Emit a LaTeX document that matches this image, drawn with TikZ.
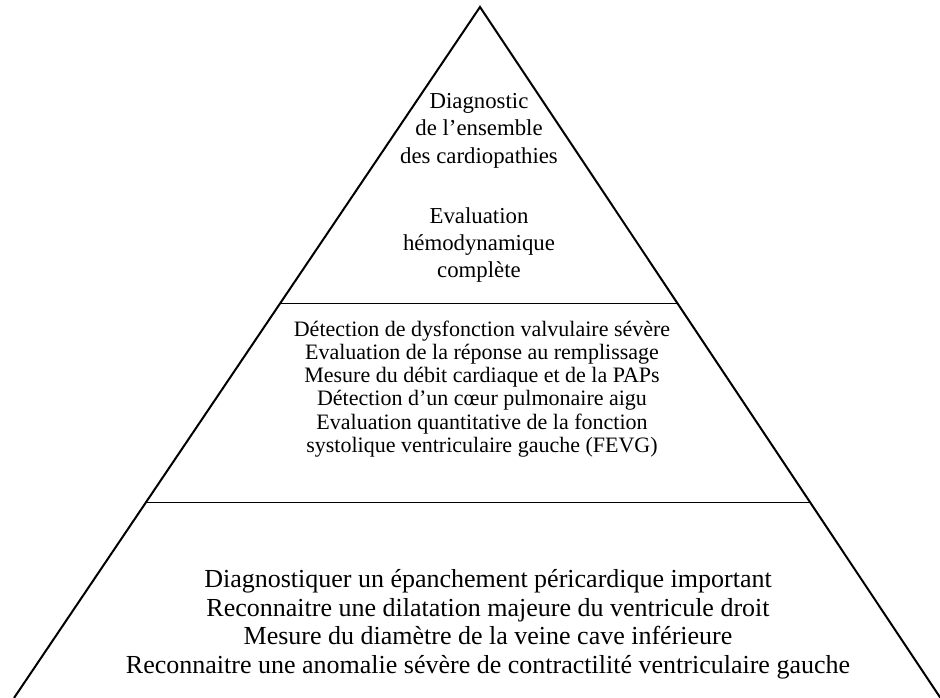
\documentclass[tikz,border=0pt]{standalone}
\usepackage{fontspec}
\setmainfont{Liberation Serif}
\usetikzlibrary{calc}
\tikzset{
  edge/.style={line width=2pt, line join=miter},
  divider/.style={line width=1pt},
  blocktext/.style={align=center, inner sep=0pt},
}
\begin{document}
\begin{tikzpicture}[x=1pt,y=1pt]
\useasboundingbox (0,0) rectangle (940,698);
\coordinate (A) at (480,691);
\coordinate (L) at (14,0);
\coordinate (R) at (940.5,0);
\draw[edge] (L) -- (A) -- (R);
\coordinate (d1l) at ($(A)!0.4284!(L)$);
\coordinate (d1r) at ($(A)!0.4284!(R)$);
\coordinate (d2l) at ($(A)!0.7178!(L)$);
\coordinate (d2r) at ($(A)!0.7178!(R)$);
\draw[divider] (d1l) -- (d1r);
\draw[divider] (d2l) -- (d2r);
\node[blocktext, font=\fontsize{22.8}{27.5}\selectfont] (t1) at (479,567.5) {Diagnostic\\de l’ensemble\\des cardiopathies};
\node[blocktext, font=\fontsize{22.8}{27}\selectfont] (t2) at (479,452.5) {Evaluation\\hémodynamique\\complète};
\node[blocktext, font=\fontsize{22}{23.2}\selectfont] (m) at (482,309) {Détection de dysfonction valvulaire sévère\\Evaluation de la réponse au remplissage\\Mesure du débit cardiaque et de la PAPs\\Détection d’un cœur pulmonaire aigu\\Evaluation quantitative de la fonction\\systolique ventriculaire gauche (FEVG)};
\node[blocktext, font=\fontsize{26}{28.5}\selectfont] (b) at (488,73.5) {Diagnostiquer un épanchement péricardique important\\Reconnaitre une dilatation majeure du ventricule droit\\Mesure du diamètre de la veine cave inférieure\\Reconnaitre une anomalie sévère de contractilité ventriculaire gauche};
\end{tikzpicture}
\end{document}
